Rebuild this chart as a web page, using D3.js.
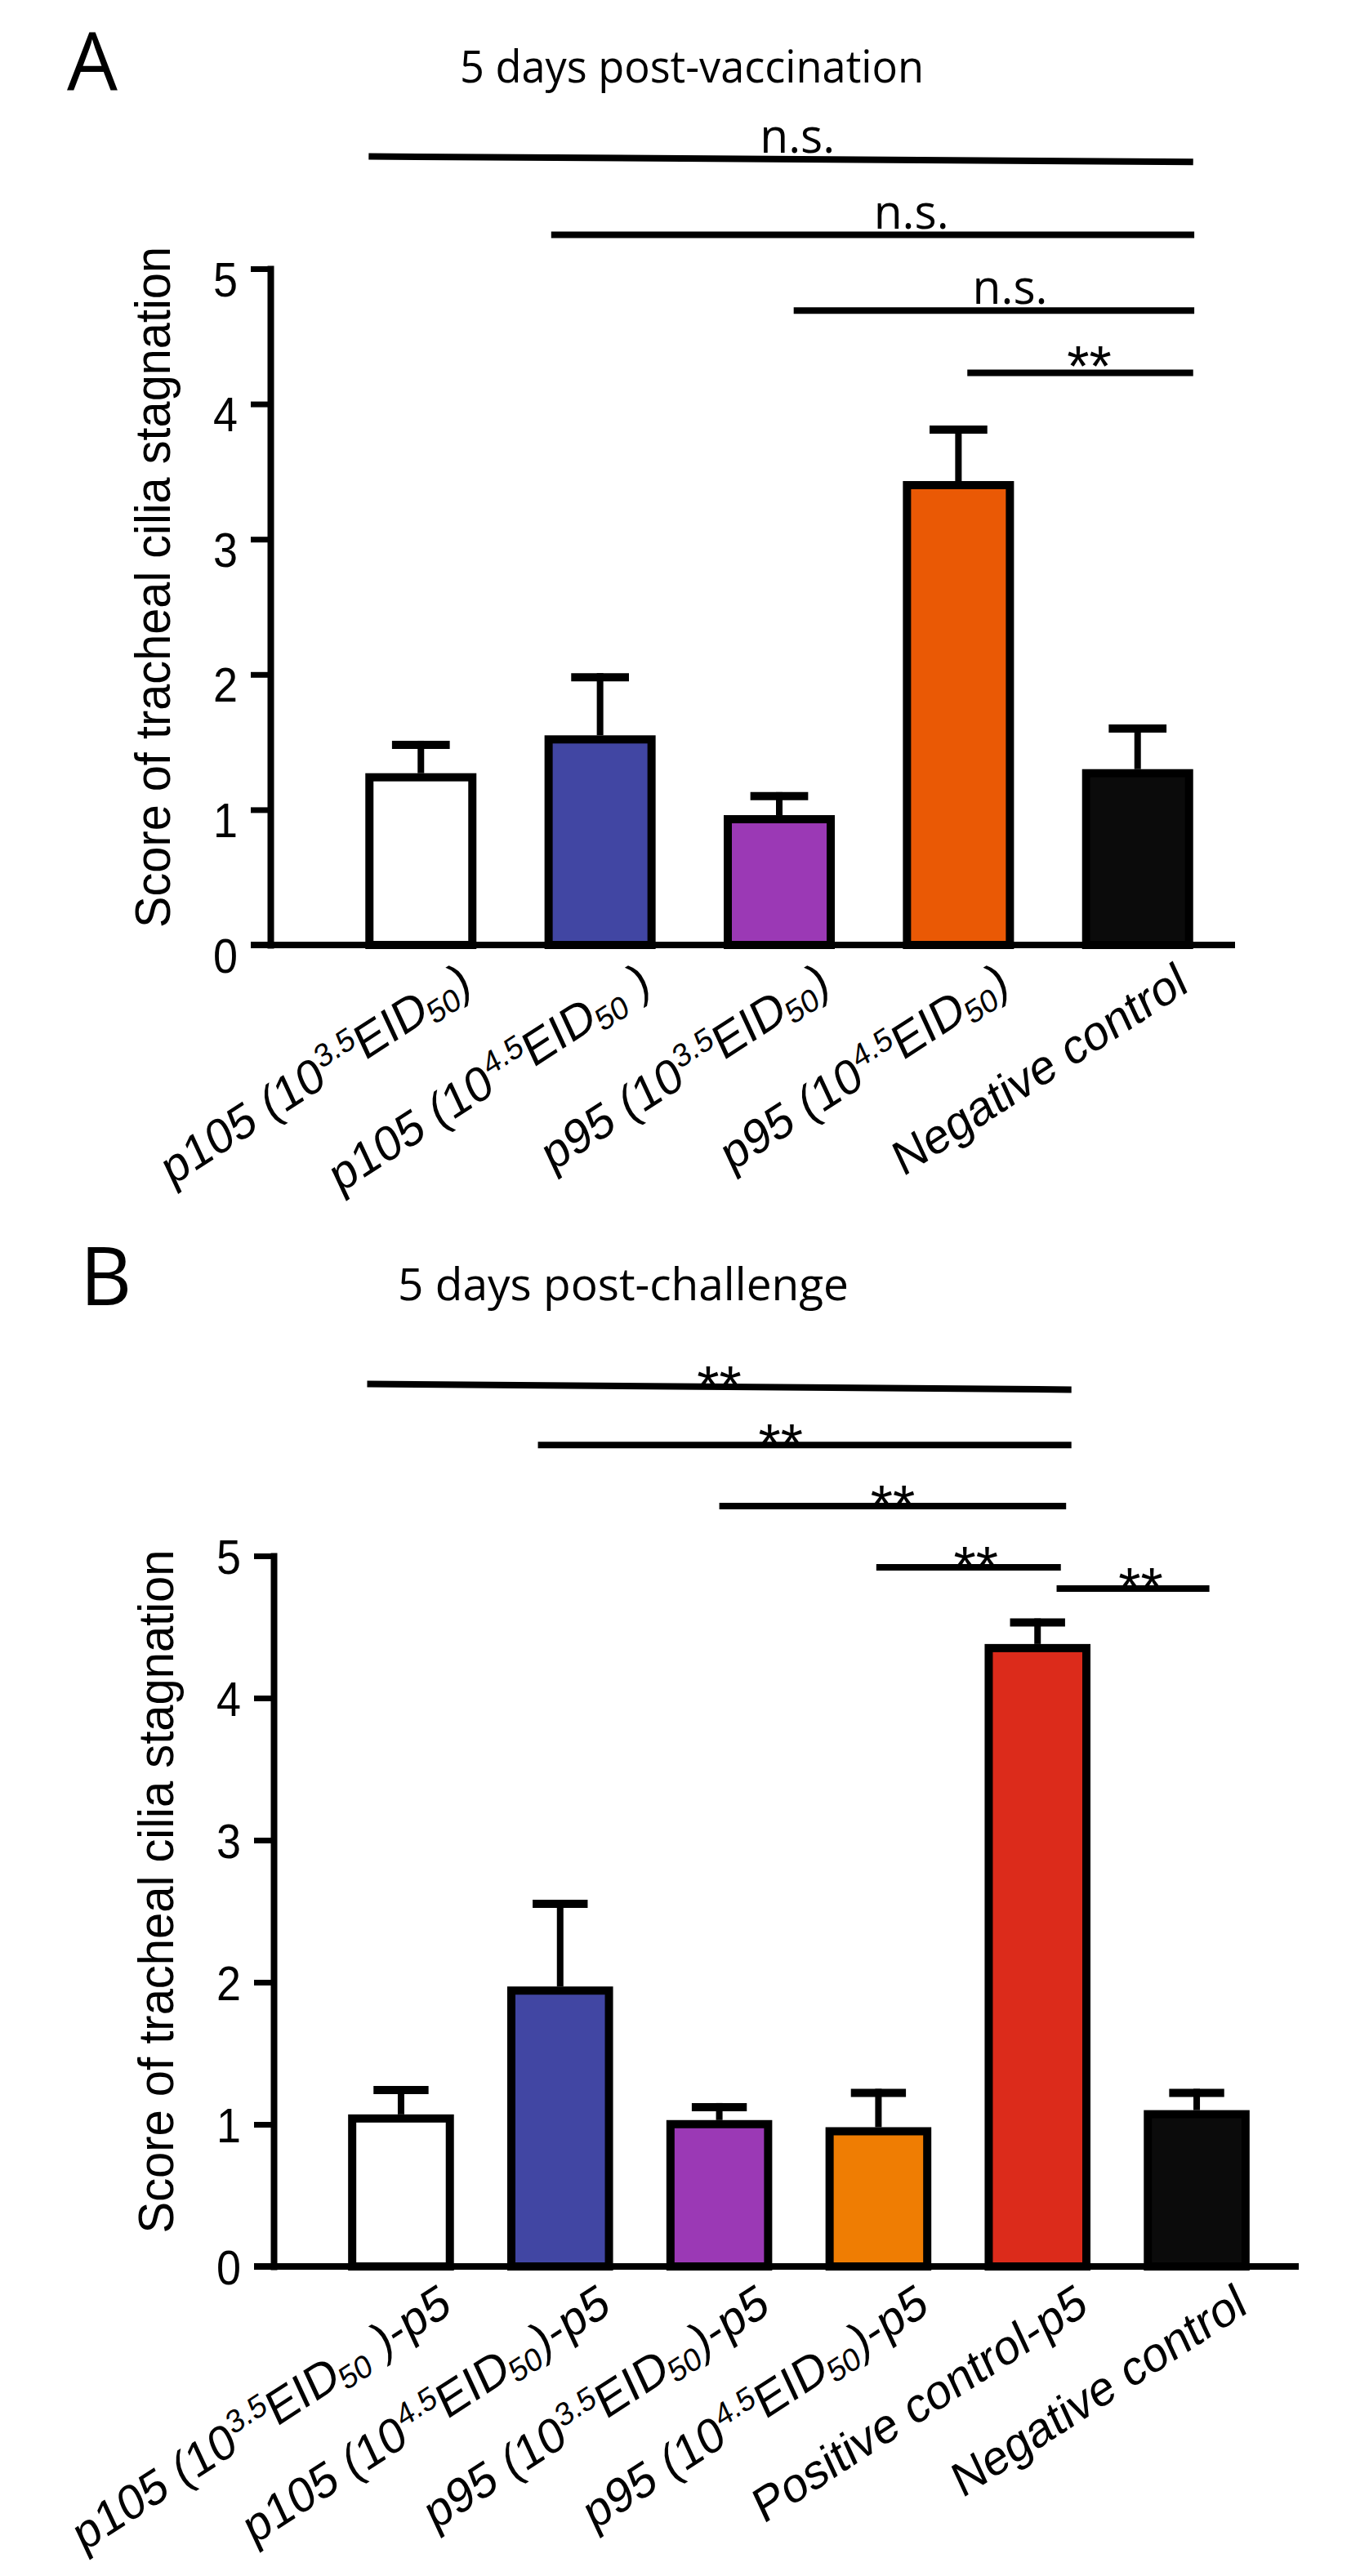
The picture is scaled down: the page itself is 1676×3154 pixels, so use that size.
<!DOCTYPE html>
<html>
<head>
<meta charset="utf-8">
<script src="https://cdn.jsdelivr.net/npm/d3@7"></script>
<style>
  body { margin: 0; background: #fff; }
  text { white-space: pre; }
</style>
</head>
<body>
<svg id="fig" width="1676" height="3154"></svg>
<script>
// ---- panel A : 5 days post-vaccination ----
const groupsA = ["p105 (10^{3.5}EID_{50})", "p105 (10^{4.5}EID_{50} )", "p95 (10^{3.5}EID_{50})", "p95 (10^{4.5}EID_{50})", "Negative control"];
const meanA = [1.27, 1.55, 0.96, 3.43, 1.30];
const semA = [0.24, 0.46, 0.17, 0.41, 0.33];
const colorsA = ["#ffffff", "#4146a3", "#9b39b5", "#ea5905", "#0b0b0b"];
// significance brackets: from/to group, level in score units
const sigA = [
  { from: 0, fromAt: 0.03, to: 4, toAt: 1.0, level: [5.83, 5.79], text: "n.s.", at: 0.52 },
  { from: 1, fromAt: 0.06, to: 4, toAt: 1.01, level: [5.25, 5.25], text: "n.s.", at: 0.56 },
  { from: 2, fromAt: 0.63, to: 4, toAt: 1.01, level: [4.69, 4.69], text: "n.s.", at: 0.54 },
  { from: 3, fromAt: 0.58, to: 4, toAt: 1.0, level: [4.23, 4.23], text: "**", at: 0.54 }
];

// ---- panel B : 5 days post-challenge ----
const groupsB = ["p105 (10^{3.5}EID_{50} )-p5", "p105 (10^{4.5}EID_{50})-p5", "p95 (10^{3.5}EID_{50})-p5", "p95 (10^{4.5}EID_{50})-p5", "Positive control-p5", "Negative control"];
const meanB = [1.07, 1.97, 1.03, 0.98, 4.38, 1.10];
const semB = [0.20, 0.61, 0.12, 0.27, 0.18, 0.15];
const colorsB = ["#ffffff", "#4146a3", "#9b39b5", "#ef7d03", "#dc2b1b", "#0b0b0b"];
const sigB = [
  { from: 0, fromAt: 0.18, to: 4, toAt: 0.82, level: [6.21, 6.17], text: "**", at: 0.5 },
  { from: 1, fromAt: 0.29, to: 4, toAt: 0.82, level: [5.78, 5.78], text: "**", at: 0.455 },
  { from: 2, fromAt: 0.5, to: 4, toAt: 0.77, level: [5.35, 5.35], text: "**", at: 0.5 },
  { from: 3, fromAt: 0.48, to: 4, toAt: 0.72, level: [4.92, 4.92], text: "**", at: 0.54 },
  { from: 4, fromAt: 0.68, to: 5, toAt: 0.62, level: [4.77, 4.77], text: "**", at: 0.55 }
];

const yTicks = [0, 1, 2, 3, 4, 5];
const yLabel = "Score of tracheal cilia stagnation";

const svg = d3.select("#fig");
const sans = "'Liberation Sans', Arial, sans-serif";
const myriad = "'Open Sans', sans-serif";
const barSW = 10;

// "10^{3.5}EID_{50}" -> plain / sup / sub pieces
function parseLabel(s) {
  const parts = [];
  const re = /(\^|_)\{([^}]*)\}/g;
  let last = 0, m;
  while ((m = re.exec(s))) {
    if (m.index > last) parts.push({ t: s.slice(last, m.index), k: "" });
    parts.push({ t: m[2], k: m[1] === "^" ? "sup" : "sub" });
    last = re.lastIndex;
  }
  if (last < s.length) parts.push({ t: s.slice(last), k: "" });
  return parts;
}

function addLabel(sel, s, fs) {
  let cur = 0;
  parseLabel(s).forEach(p => {
    const target = p.k === "sup" ? -0.36 * fs : p.k === "sub" ? 0.16 * fs : 0;
    sel.append("tspan")
      .attr("dy", target - cur)
      .attr("font-size", p.k ? fs * 0.66 : fs)
      .text(p.t);
    cur = target;
  });
}

function drawPanel(p) {
  const g = svg.append("g");

  const x = d3.scaleBand()
    .domain(d3.range(p.groups.length))
    .range([p.left, p.right])
    .paddingInner(p.padIn)
    .paddingOuter(p.padOut);
  const y = d3.scaleLinear().domain([0, 5]).range([p.bottom, p.top]);
  const bw = x.bandwidth();

  g.append("text")
    .attr("x", p.letter[0]).attr("y", p.letter[1])
    .attr("font-family", myriad).attr("font-size", 98)
    .text(p.name);

  g.append("text")
    .attr("x", p.title[0]).attr("y", p.title[1])
    .attr("text-anchor", "middle")
    .attr("font-family", myriad).attr("font-size", 54)
    .attr("textLength", p.title[2]).attr("lengthAdjust", "spacingAndGlyphs")
    .text(p.titleText);

  // y axis
  const ya = g.append("g")
    .attr("transform", `translate(${p.left},0)`)
    .call(d3.axisLeft(y).tickValues(yTicks).tickSize(24).tickSizeOuter(0).tickPadding(16).tickFormat(d3.format("d")));
  ya.select(".domain").attr("stroke-width", 8).attr("stroke-linecap", "square");
  ya.selectAll(".tick line").attr("stroke-width", 7);
  ya.selectAll(".tick text")
    .attr("font-family", sans).attr("font-size", 60)
    .attr("textLength", 30).attr("lengthAdjust", "spacingAndGlyphs")
    .attr("fill", "#000").attr("dy", p.tickDy);

  g.append("text")
    .attr("transform", `translate(${p.left - 123},${(p.top + p.bottom) / 2 - 24}) rotate(-90)`)
    .attr("text-anchor", "middle")
    .attr("font-family", sans).attr("font-size", 62)
    .attr("textLength", p.yLabelLen).attr("lengthAdjust", "spacingAndGlyphs")
    .text(yLabel);

  // bars
  g.selectAll("rect.bar").data(p.means).join("rect")
    .attr("class", "bar")
    .attr("x", (d, i) => x(i) + barSW / 2)
    .attr("width", bw - barSW)
    .attr("y", d => y(d) + barSW / 2)
    .attr("height", d => y(0) - y(d) - barSW / 2)
    .attr("fill", (d, i) => p.colors[i])
    .attr("stroke", "#000")
    .attr("stroke-width", barSW);

  // error bars (upper only)
  const cx = i => x(i) + bw / 2;
  g.selectAll("line.err").data(p.means).join("line")
    .attr("class", "err")
    .attr("x1", (d, i) => cx(i)).attr("x2", (d, i) => cx(i))
    .attr("y1", d => y(d)).attr("y2", (d, i) => y(d + p.sem[i]))
    .attr("stroke", "#000").attr("stroke-width", 8);
  g.selectAll("line.cap").data(p.means).join("line")
    .attr("class", "cap")
    .attr("x1", (d, i) => cx(i) - bw * 0.26).attr("x2", (d, i) => cx(i) + bw * 0.26)
    .attr("y1", (d, i) => y(d + p.sem[i]) + 5).attr("y2", (d, i) => y(d + p.sem[i]) + 5)
    .attr("stroke", "#000").attr("stroke-width", 10);

  // x axis baseline
  g.append("line")
    .attr("x1", p.left - 24).attr("x2", p.axisEnd)
    .attr("y1", y(0)).attr("y2", y(0))
    .attr("stroke", "#000").attr("stroke-width", 8);

  // category labels, slanted with a slight lean
  p.groups.forEach((s, i) => {
    const t = g.append("text")
      .attr("transform", `translate(${cx(i) + 64},${y(0) + 56}) rotate(-33) skewX(-8)`)
      .attr("text-anchor", "end")
      .attr("font-family", sans);
    addLabel(t, s, 58);
  });

  // significance brackets
  p.sig.forEach(s => {
    const x1 = x(s.from) + s.fromAt * bw;
    const x2 = x(s.to) + s.toAt * bw;
    const y1 = y(s.level[0]), y2 = y(s.level[1]);
    g.append("line")
      .attr("x1", x1).attr("x2", x2).attr("y1", y1).attr("y2", y2)
      .attr("stroke", "#000").attr("stroke-width", 8);
    const tx = x1 + (x2 - x1) * s.at;
    const ty = y1 + (y2 - y1) * s.at;
    const star = s.text === "**";
    const t = g.append("text")
      .attr("x", tx).attr("y", star ? ty + p.starDy : ty - 8)
      .attr("text-anchor", "middle")
      .attr("font-family", star ? sans : myriad)
      .attr("font-size", star ? 70 : 58)
      .text(s.text);
    if (!star) t.attr("textLength", 92).attr("lengthAdjust", "spacingAndGlyphs");
  });
}

drawPanel({
  name: "A", letter: [82, 110],
  titleText: "5 days post-vaccination", title: [847, 101, 568],
  groups: groupsA, means: meanA, sem: semA, colors: colorsA, sig: sigA,
  left: 331, right: 1577, padIn: 0.38, padOut: 0.53, axisEnd: 1512,
  top: 329, bottom: 1157,
  tickDy: "0.55em", yLabelLen: 834, starDy: 16
});

drawPanel({
  name: "B", letter: [98, 1598],
  titleText: "5 days post-challenge", title: [763, 1592, 552],
  groups: groupsB, means: meanB, sem: semB, colors: colorsB, sig: sigB,
  left: 335, right: 1621, padIn: 0.335, padOut: 0.468, axisEnd: 1590,
  top: 1905, bottom: 2775,
  tickDy: "0.36em", yLabelLen: 837, starDy: 24
});
</script>
</body>
</html>
